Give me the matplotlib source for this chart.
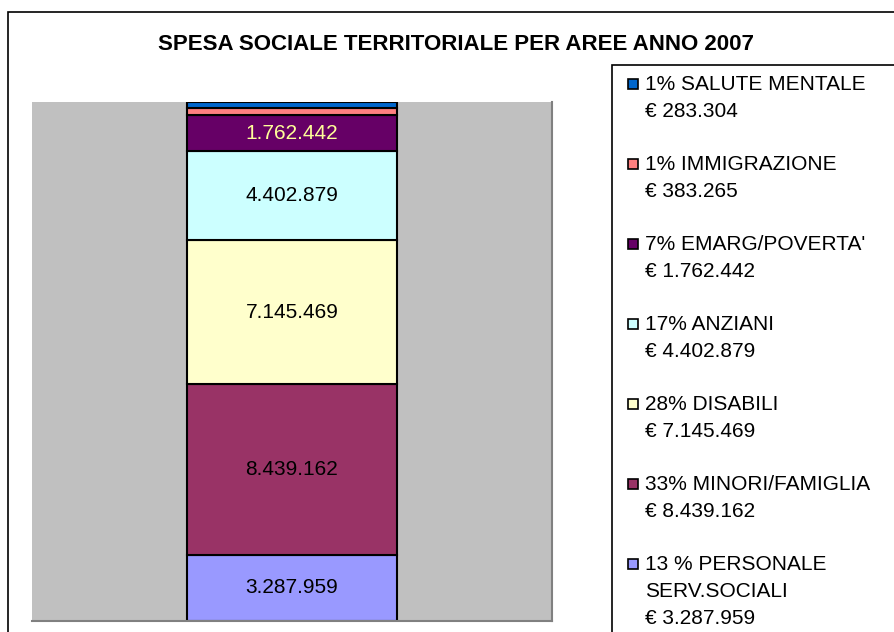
import matplotlib
matplotlib.use("Agg")
import matplotlib.pyplot as plt
from matplotlib.patches import Rectangle

plt.rcParams['font.family'] = ['Liberation Sans', 'DejaVu Sans']

title = "SPESA SOCIALE TERRITORIALE PER AREE ANNO 2007"
areas = ["13 % PERSONALE\nSERV.SOCIALI", "33% MINORI/FAMIGLIA", "28% DISABILI",
         "17% ANZIANI", "7% EMARG/POVERTA'", "1% IMMIGRAZIONE", "1% SALUTE MENTALE"]
values = [3287959, 8439162, 7145469, 4402879, 1762442, 383265, 283304]
value_labels = ["3.287.959", "8.439.162", "7.145.469", "4.402.879", "1.762.442", "383.265", "283.304"]
colors = ["#9999FF", "#993366", "#FFFFCC", "#CCFFFF", "#660066", "#FF8080", "#0066CC"]
label_colors = ["black", "black", "black", "black", "#FFFF99", None, None]

W, H = 895, 632
fig = plt.figure(figsize=(W / 100, H / 100), dpi=100)

def fx(px):
    return px / W

def fy(py):
    return 1 - py / H

# outer chart border
fig.add_artist(Rectangle((fx(8), fy(700)), fx(1000), 688 / H, transform=fig.transFigure,
                         fill=False, edgecolor="black", linewidth=1.2))

ax = fig.add_axes([fx(32), fy(621), fx(520), 519 / H])
ax.set_facecolor("#C0C0C0")
total = sum(values)
bottom = 0
for v, c, lab, lc in zip(values, colors, value_labels, label_colors):
    ax.bar(0, v, bottom=bottom, width=0.404, color=c, edgecolor="black", linewidth=1.5)
    if lc is not None:
        ax.text(0, bottom + v / 2, lab, ha="center", va="center", fontsize=15, color=lc)
    bottom += v
ax.set_xlim(-0.5, 0.5)
ax.set_ylim(0, total)
ax.set_xticks([])
ax.set_yticks([])
for s in ["top", "left"]:
    ax.spines[s].set_visible(False)
ax.spines["right"].set_color("#808080")
ax.spines["bottom"].set_color("#808080")
ax.spines["right"].set_linewidth(1.5)
ax.spines["bottom"].set_linewidth(1.5)

fig.text(fx(456), fy(44), title, ha="center", va="center", fontsize=16,
         fontweight="bold")

# legend box
fig.add_artist(Rectangle((fx(612), fy(700)), fx(400), (700 - 65) / H, transform=fig.transFigure,
                         fill=False, edgecolor="black", linewidth=1.2))
leg_entries = list(zip(areas, value_labels, colors))[::-1]
y0 = 84
for i, (a, lab, c) in enumerate(leg_entries):
    yy = y0 + i * 80
    fig.add_artist(Rectangle((fx(628), fy(yy + 5)), fx(10), 10 / H, transform=fig.transFigure,
                             facecolor=c, edgecolor="black", linewidth=1.2))
    lines = a.split("\n") + ["\u20ac " + lab]
    for j, line in enumerate(lines):
        fig.text(fx(645), fy(yy + j * 27.5), line, ha="left", va="center", fontsize=15)

fig.savefig("out.png", dpi=100)
